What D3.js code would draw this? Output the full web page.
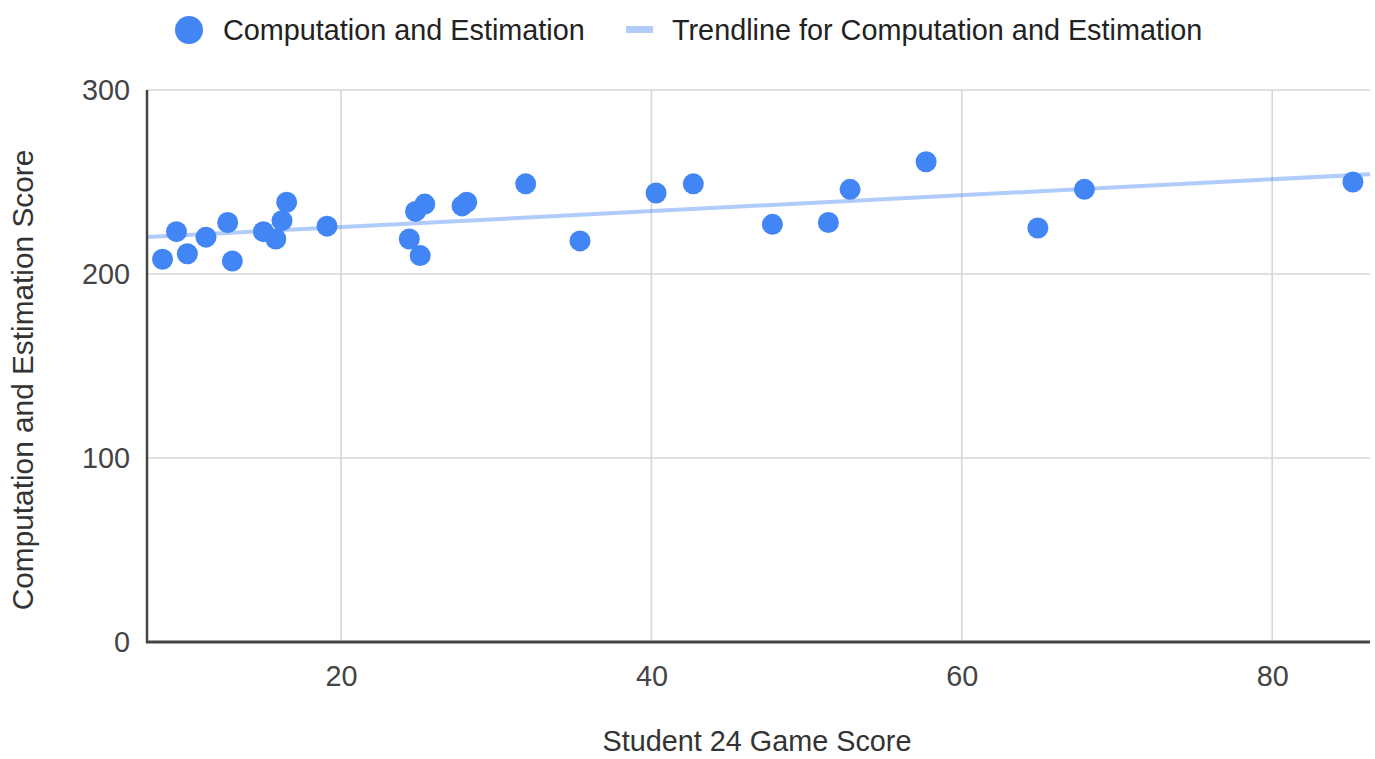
<!DOCTYPE html>
<html>
<head>
<meta charset="utf-8">
<script src="https://cdn.jsdelivr.net/npm/d3@7"></script>
<style>
  html, body { margin: 0; padding: 0; background: #fff; }
  svg { display: block; }
  text { font-family: "Liberation Sans", Arial, sans-serif; }
</style>
</head>
<body>
<svg id="chart" width="1375" height="759"></svg>
<script>
// Student 24 game score vs. computation & estimation score
const gameScores = [8.5, 9.4, 10.1, 11.3, 12.7, 13.0, 15.0, 15.8, 16.2, 16.5, 19.1,
  24.4, 25.1, 24.8, 25.4, 27.8, 28.1, 31.9, 35.4, 40.3, 42.7, 47.8, 51.4, 52.8,
  57.7, 64.9, 67.9, 85.2];
const computationScores = [208, 223, 211, 220, 228, 207, 223, 219, 229, 239, 226,
  219, 210, 234, 238, 237, 239, 249, 218, 244, 249, 227, 228, 246,
  261, 225, 246, 250];
const xTicks = [20, 40, 60, 80];
const yTicks = [0, 100, 200, 300];
const seriesName = "Computation and Estimation";
const trendName = "Trendline for Computation and Estimation";
const xTitle = "Student 24 Game Score";
const yTitle = "Computation and Estimation Score";

const blue = "#4285f4";
const fontSize = 28.8;

const svg = d3.select("#chart");
const x = d3.scaleLinear().domain([7.5, 86.3]).range([147, 1370]);
const y = d3.scaleLinear().domain([0, 300]).range([642, 90]);

const points = gameScores.map((g, i) => ({ x: g, y: computationScores[i] }));

// Gridlines
svg.append("g").selectAll("line").data(xTicks).join("line")
  .attr("x1", d => x(d)).attr("x2", d => x(d))
  .attr("y1", y(300)).attr("y2", y(0))
  .attr("stroke", "#d6d6d6").attr("stroke-width", 1.6);
svg.append("g").selectAll("line").data(yTicks.filter(d => d > 0)).join("line")
  .attr("x1", x.range()[0]).attr("x2", x.range()[1])
  .attr("y1", d => y(d)).attr("y2", d => y(d))
  .attr("stroke", "#d6d6d6").attr("stroke-width", 1.6);

// Least-squares trendline
const mx = d3.mean(points, d => d.x), my = d3.mean(points, d => d.y);
const slope = d3.sum(points, d => (d.x - mx) * (d.y - my)) / d3.sum(points, d => (d.x - mx) ** 2);
const intercept = my - slope * mx;
const [x0, x1] = x.domain();
svg.append("line")
  .attr("x1", x(x0)).attr("y1", y(intercept + slope * x0))
  .attr("x2", x(x1)).attr("y2", y(intercept + slope * x1))
  .attr("stroke", blue).attr("stroke-opacity", 0.42).attr("stroke-width", 4);

// Axis baselines
svg.append("line")
  .attr("x1", x.range()[0]).attr("x2", x.range()[0])
  .attr("y1", y(300)).attr("y2", y(0) + 1)
  .attr("stroke", "#444").attr("stroke-width", 2.5);
svg.append("line")
  .attr("x1", x.range()[0] - 1).attr("x2", x.range()[1])
  .attr("y1", y(0)).attr("y2", y(0))
  .attr("stroke", "#444").attr("stroke-width", 3);

// Tick labels via d3 axes (lines hidden)
const xAxis = svg.append("g").attr("transform", `translate(0,${y(0)})`)
  .call(d3.axisBottom(x).tickValues(xTicks).tickSize(0).tickPadding(24));
const yAxis = svg.append("g").attr("transform", `translate(${x.range()[0]},0)`)
  .call(d3.axisLeft(y).tickValues(yTicks).tickSize(0).tickPadding(17));
[xAxis, yAxis].forEach(a => {
  a.select(".domain").remove();
  a.selectAll("text")
    .attr("font-family", '"Liberation Sans", Arial, sans-serif')
    .attr("font-size", fontSize).attr("fill", "#444");
});

// Points
svg.append("g").selectAll("circle").data(points).join("circle")
  .attr("cx", d => x(d.x)).attr("cy", d => y(d.y))
  .attr("r", 10.5).attr("fill", blue);

// Axis titles
svg.append("text")
  .attr("x", 757).attr("y", 751)
  .attr("text-anchor", "middle")
  .attr("font-size", fontSize).attr("fill", "#333")
  .text(xTitle);
svg.append("text")
  .attr("transform", "translate(33,380) rotate(-90)")
  .attr("text-anchor", "middle")
  .attr("font-size", 29.8).attr("fill", "#333")
  .text(yTitle);

// Legend
const legend = svg.append("g");
legend.append("circle").attr("cx", 189).attr("cy", 30).attr("r", 14).attr("fill", blue);
legend.append("text").attr("x", 223).attr("y", 40)
  .attr("font-size", fontSize).attr("fill", "#222").text(seriesName);
legend.append("rect").attr("x", 626).attr("y", 26).attr("width", 27).attr("height", 7)
  .attr("fill", blue).attr("fill-opacity", 0.42);
legend.append("text").attr("x", 672).attr("y", 40)
  .attr("font-size", fontSize).attr("fill", "#222").text(trendName);
</script>
</body>
</html>
